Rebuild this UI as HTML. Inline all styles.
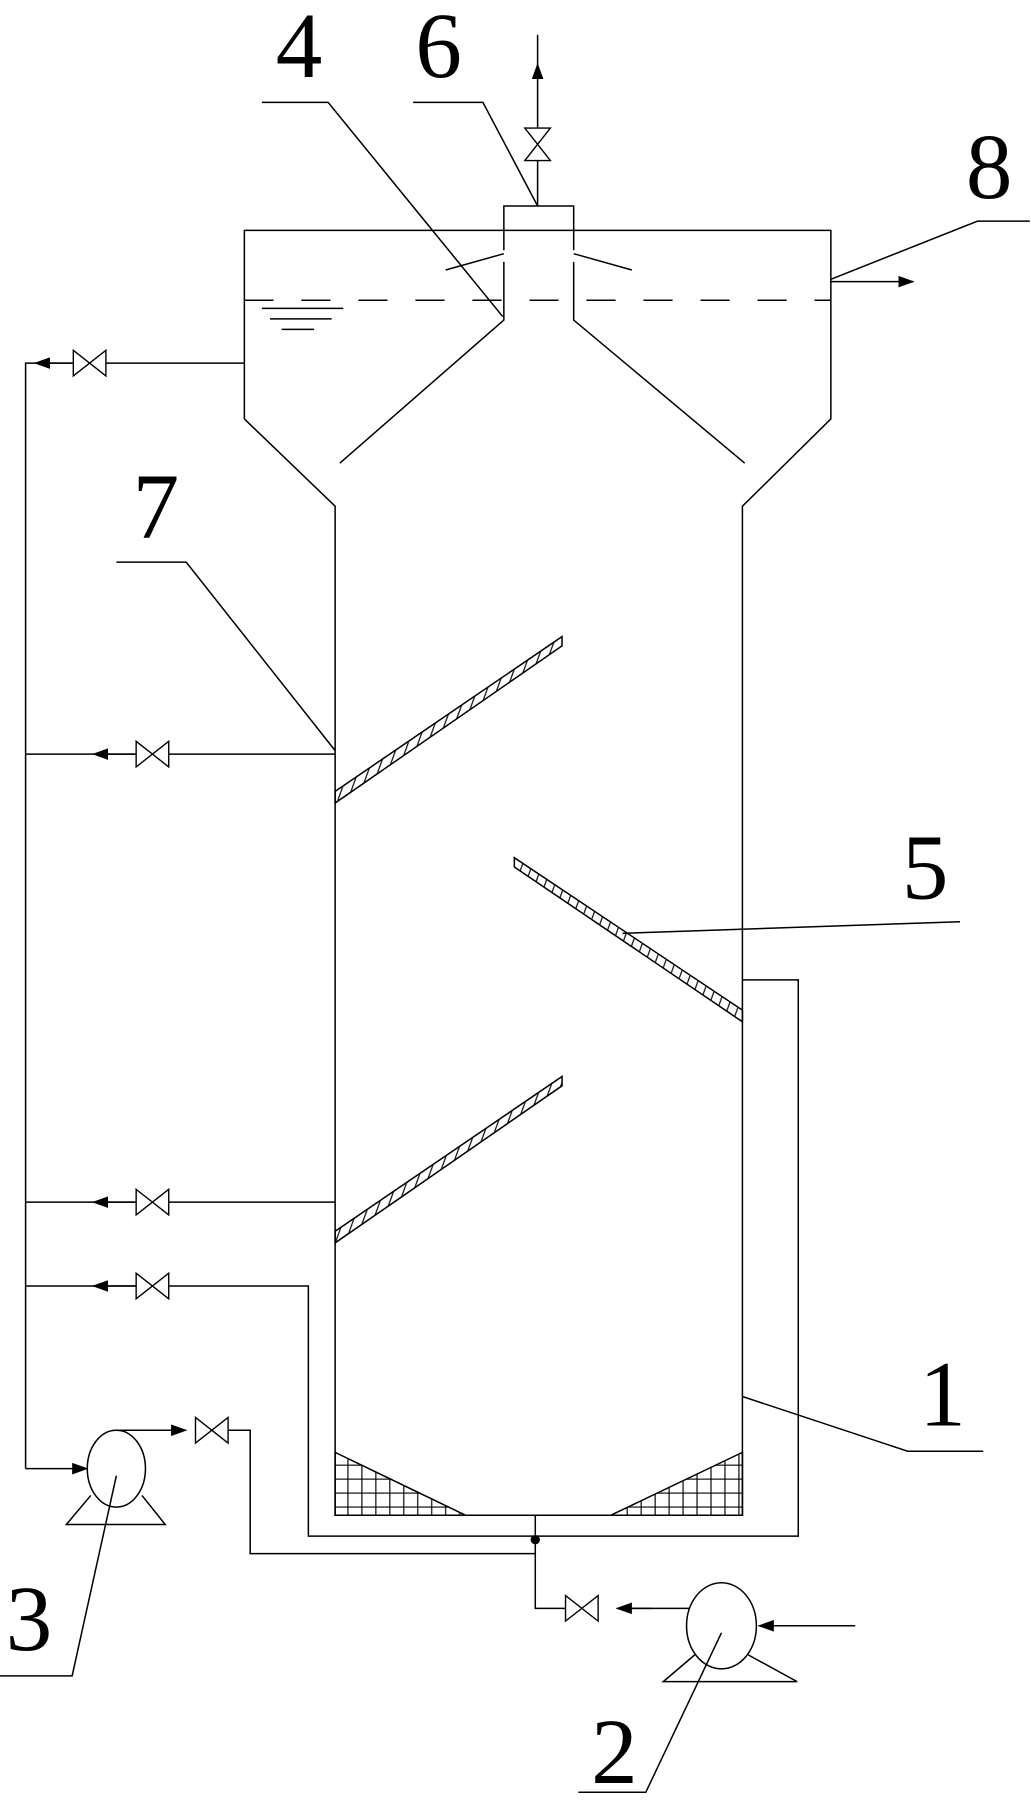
<!DOCTYPE html>
<html><head><meta charset="utf-8"><style>
html,body{margin:0;padding:0;background:#fff;}
svg{display:block;}
text{font-family:"Liberation Serif",serif;font-size:80px;fill:#000;}
</style></head><body>
<svg width="1031" height="1805" viewBox="0 0 886 1551" preserveAspectRatio="none" xmlns="http://www.w3.org/2000/svg">
<defs>
<marker id="ar" markerWidth="14" markerHeight="10" refX="13" refY="5" orient="auto" markerUnits="userSpaceOnUse"><path d="M0,0 L14,5 L0,10 Z" fill="#000"/></marker>
<pattern id="grid" width="12" height="12" patternUnits="userSpaceOnUse"><path d="M0,11 H12 M11,0 V12" stroke="#000" stroke-width="1" fill="none"/></pattern>
<pattern id="hatch" width="8" height="8" patternUnits="userSpaceOnUse" patternTransform="rotate(20)"><path d="M4,0 V8" stroke="#000" stroke-width="1"/></pattern>
<g id="valveH"><path d="M-14,-11 L14,11 L14,-11 L-14,11 Z" fill="#fff" stroke="#000" stroke-width="1.2"/></g>
</defs>
<g stroke="#000" stroke-width="1.3" fill="none">
<path d="M210,360 V198 H714 V360 L638,435 V1302 H288 V435 L210,360"/>
<line x1="210" y1="258" x2="714" y2="258" stroke-dasharray="25,24"/>
<path d="M225,265 H295 M232,274 H285 M242,283 H270"/>
<path d="M433,215 V177 H493 V215"/>
<path d="M433,218 L383,232 M493,218 L543,232"/>
<path d="M433,225 V275 L292,398 M493,225 V275 L640,398"/>
<line x1="462" y1="177" x2="462" y2="55" marker-end="url(#ar)"/>
<line x1="462" y1="55" x2="462" y2="30"/>
<line x1="714" y1="242" x2="785" y2="242" marker-end="url(#ar)"/>
<path d="M210,312 H22 V1262"/>
<line x1="62" y1="312" x2="30" y2="312" marker-end="url(#ar)"/>
<path d="M288,648 H22"/>
<line x1="117" y1="648" x2="80" y2="648" marker-end="url(#ar)"/>
<path d="M288,1033 H22"/>
<line x1="117" y1="1033" x2="80" y2="1033" marker-end="url(#ar)"/>
<path d="M22,1105 H265 V1320 H686 V842 H638"/>
<line x1="117" y1="1105" x2="80" y2="1105" marker-end="url(#ar)"/>
<line x1="22" y1="1262" x2="75" y2="1262" marker-end="url(#ar)"/>
<ellipse cx="100" cy="1262" rx="25" ry="33" fill="#fff"/>
<path d="M78,1285 L57,1310 H142 L122,1285"/>
<path d="M100,1229 H158"/>
<line x1="140" y1="1229" x2="160" y2="1229" marker-end="url(#ar)"/>
<path d="M195,1229 H215 V1335 H460"/>
<path d="M460,1302 V1382 H488"/>
<path d="M540,1382 H617"/>
<line x1="560" y1="1382" x2="530" y2="1382" marker-end="url(#ar)"/>
<ellipse cx="620" cy="1397" rx="30" ry="37" fill="#fff"/>
<path d="M597,1422 L570,1445 H685 L643,1422"/>
<line x1="735" y1="1397" x2="652" y2="1397" marker-end="url(#ar)"/>
<path d="M288,1248 L400,1302 H288 Z" fill="url(#grid)"/>
<path d="M638,1248 L525,1302 H638 Z" fill="url(#grid)"/>
<path d="M288,680 L483,547 V555 L288,690 Z" fill="url(#hatch)"/>
<path d="M288,1058 L483,925 V933 L288,1068 Z" fill="url(#hatch)"/>
<path d="M442,737 V745 L638,878 V868 Z" fill="url(#hatch)"/>
<path d="M225,88 H282 L432,272"/>
<path d="M355,88 H415 L462,177"/>
<path d="M885,190 H840 L714,240"/>
<path d="M100,483 H160 L288,645"/>
<path d="M535,802 L825,792"/>
<path d="M638,1200 L780,1247 H845"/>
<path d="M100,1268 L62,1440 H0"/>
<path d="M620,1403 L555,1540 H497"/>
</g>
<use href="#valveH" x="462" y="124" transform="rotate(90 462 124)"/>
<use href="#valveH" x="77" y="312"/>
<use href="#valveH" x="131" y="648"/>
<use href="#valveH" x="131" y="1033"/>
<use href="#valveH" x="131" y="1105"/>
<use href="#valveH" x="182" y="1229"/>
<use href="#valveH" x="500" y="1382"/>
<circle cx="460" cy="1323" r="4" fill="#000"/>
<text x="237" y="66">4</text>
<text x="357" y="66">6</text>
<text x="830" y="170">8</text>
<text x="114" y="462">7</text>
<text x="775" y="772">5</text>
<text x="790" y="1225">1</text>
<text x="5" y="1418">3</text>
<text x="508" y="1532">2</text>
</svg>
</body></html>
